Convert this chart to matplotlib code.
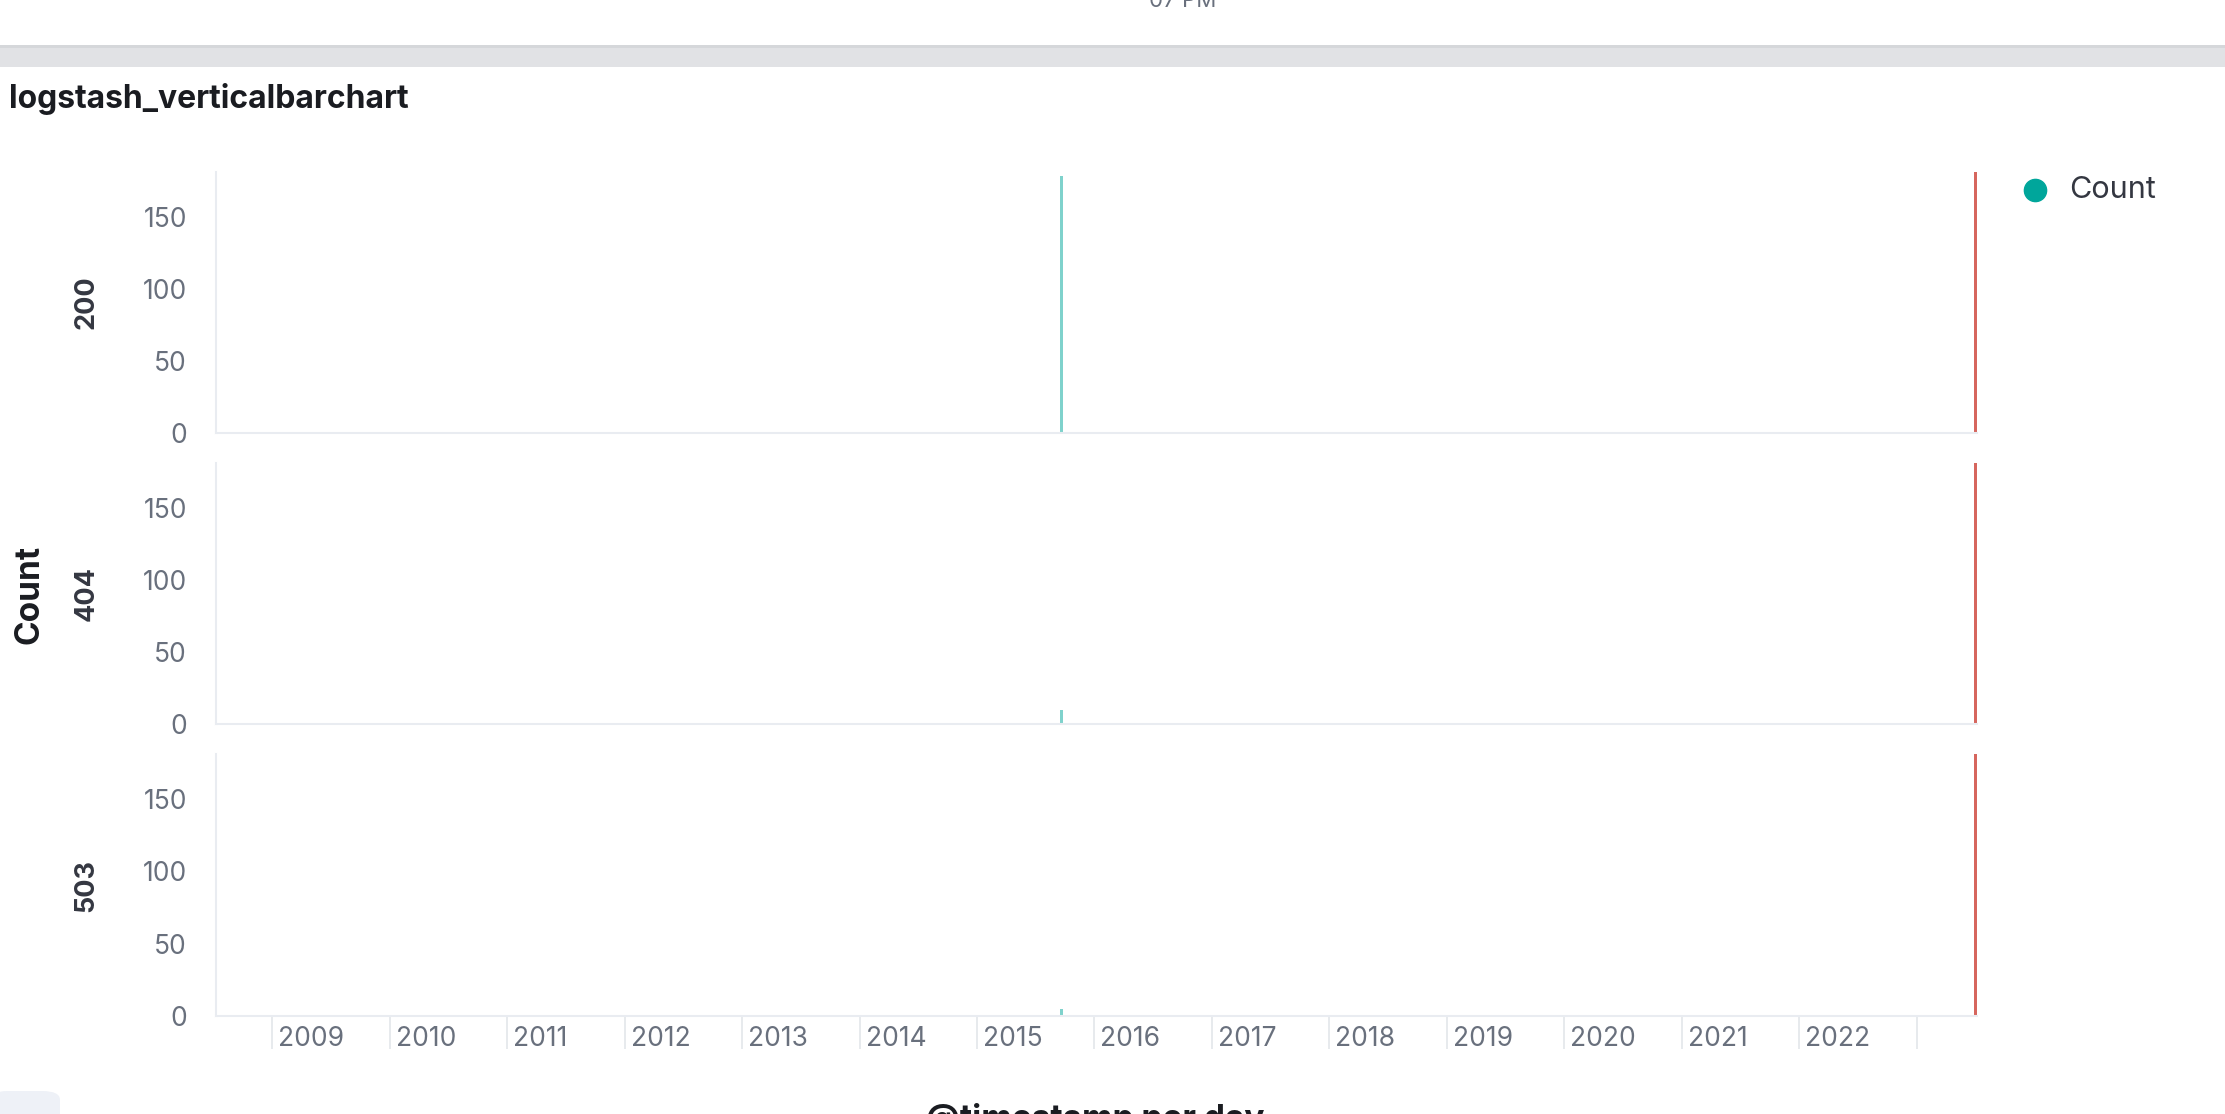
import pandas as pd
import matplotlib
matplotlib.use('Agg')
from matplotlib import pyplot as plt
from matplotlib import transforms
from matplotlib.lines import Line2D
from matplotlib.patches import Rectangle, FancyBboxPatch

plt.rcParams['font.family'] = ['Inter', 'DejaVu Sans']

title = 'logstash_verticalbarchart'
statuses = ['200', '404', '503']
bar_day = '2015-09-21'
counts = [178, 10, 5]
now_day = '2023-07-04'
year_ticks = list(range(2009, 2024))
year_labels = [str(y) for y in range(2009, 2023)]
y_ticks = [0, 50, 100, 150]
x_label = '@timestamp per day'
y_label = 'Count'
legend_label = 'Count'
top_hint = '07 PM'


def dec_year(d):
    t = pd.Timestamp(d)
    start = pd.Timestamp(year=t.year, month=1, day=1)
    end = pd.Timestamp(year=t.year + 1, month=1, day=1)
    return t.year + (t - start) / (end - start)


W, H = 2225, 1114
fig = plt.figure(figsize=(W / 100, H / 100), dpi=100)


def fx(px):
    return px / W


def fy(py):
    return 1 - py / H


# page chrome above the panel
fig.patches.append(Rectangle((0, fy(67)), 1, (67 - 45) / H, transform=fig.transFigure,
                             color='#E1E2E5', lw=0))
fig.patches.append(Rectangle((0, fy(48)), 1, (48 - 45) / H, transform=fig.transFigure,
                             color='#D5D7DA', lw=0))
fig.text(fx(1183), fy(1), top_hint, ha='center', va='center', fontsize=16, color='#69707D')
fig.patches.append(FancyBboxPatch((fx(-10), fy(1125)), fx(70), (1125 - 1091) / H,
                                  boxstyle='round,pad=0,rounding_size=0.008',
                                  transform=fig.transFigure, color='#EEF1F7', lw=0))

fig.text(fx(9), fy(99), title, ha='left', va='center', fontsize=23,
         fontweight='bold', color='#1A1C21')

tops = [172, 463, 754]
bots = [433, 724, 1016]
left, right = 216, 1977
bar_x = dec_year(bar_day)
now_x = dec_year(now_day)
axis_col = '#E9ECF1'
label_col = '#69707D'

for i, status in enumerate(statuses):
    ax = fig.add_axes([fx(left), fy(bots[i]), fx(right - left), (bots[i] - tops[i]) / H])
    ax.bar([bar_x], [counts[i]], width=0.026, color='#00A69B', alpha=0.5, linewidth=0)
    ax.axvline(now_x, color='#D6665E', lw=3.6)
    ax.set_xlim(2008.52, 2023.515)
    ax.set_ylim(0, 181)
    for s in ['top', 'right']:
        ax.spines[s].set_visible(False)
    for s in ['left', 'bottom']:
        ax.spines[s].set_color(axis_col)
        ax.spines[s].set_linewidth(1.5)
    ax.set_yticks(y_ticks)
    ax.tick_params(axis='y', length=0, pad=21, labelsize=19, labelcolor=label_col)
    ax.set_ylabel(status, fontsize=19.5, fontweight='bold', color='#343741', labelpad=31)
    if i < len(statuses) - 1:
        ax.set_xticks([])
    else:
        ax.set_xticks(year_ticks)
        ax.set_xticklabels([])
        ax.tick_params(axis='x', length=24, width=1.2, color='#E3E6EA')
        for t, y in zip(ax.xaxis.get_major_ticks(), year_ticks):
            if y in (2010, 2020):
                t.tick1line.set_color('#C5CAD1')
        base = transforms.blended_transform_factory(ax.transData, ax.transAxes)
        off = transforms.offset_copy(base, fig=fig, x=6, y=-23, units='dots')
        for lab in year_labels:
            ax.text(int(lab), 0, lab, transform=off, ha='left', va='center',
                    fontsize=19, color=label_col)

fig.text(fx(30), fy(594), y_label, rotation=90, ha='center', va='center',
         fontsize=24, fontweight='bold', color='#1A1C21')
fig.text(fx(1095), fy(1103), x_label, ha='center', va='top',
         fontsize=24, fontweight='bold', color='#1A1C21')

fig.add_artist(Line2D([fx(2035)], [fy(190)], transform=fig.transFigure, marker='o',
                      markersize=16, color='#00A69B', linestyle=''))
fig.text(fx(2069), fy(190), legend_label, ha='left', va='center', fontsize=22,
         color='#343741')

fig.savefig('out.png', dpi=100)
